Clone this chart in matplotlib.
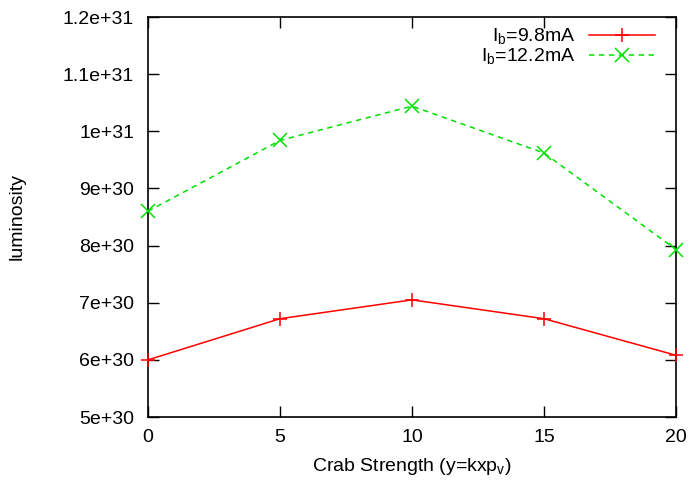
import matplotlib
matplotlib.use("Agg")
import matplotlib.pyplot as plt
from matplotlib.ticker import FixedLocator

plt.rcParams['font.family'] = ['Liberation Sans', 'DejaVu Sans']
plt.rcParams['mathtext.fontset'] = 'custom'
plt.rcParams['mathtext.rm'] = 'Liberation Sans'
plt.rcParams['mathtext.it'] = 'Liberation Sans'
plt.rcParams['mathtext.default'] = 'rm'

crab_strength = [0, 5, 10, 15, 20]
lumi_9_8mA = [6.00e30, 6.72e30, 7.05e30, 6.72e30, 6.08e30]
lumi_12_2mA = [8.60e30, 9.84e30, 1.044e31, 9.62e30, 7.93e30]
x_ticks = [0, 5, 10, 15, 20]
y_ticks = [5e30, 6e30, 7e30, 8e30, 9e30, 1e31, 1.1e31, 1.2e31]
y_tick_labels = ['5e+30', '6e+30', '7e+30', '8e+30', '9e+30', '1e+31', '1.1e+31', '1.2e+31']

FS = 14

fig = plt.figure(figsize=(6.9, 4.8), dpi=100)
ax = fig.add_axes([148 / 690, 63 / 480, 528 / 690, 400 / 480])

ax.plot(crab_strength, lumi_9_8mA, color='#ff0000', lw=1.1, marker='+',
        markersize=10, markeredgewidth=1.1, label=r'I$_{\mathrm{b}}$=9.8mA',
        clip_on=False, zorder=3)
ax.plot(crab_strength, lumi_12_2mA, color='#00e000', lw=1.1, ls=(0, (3.5, 3)),
        marker='x', markersize=10, markeredgewidth=1.1,
        label=r'I$_{\mathrm{b}}$=12.2mA', clip_on=False, zorder=3)

ax.set_xlim(0, 20)
ax.set_ylim(5e30, 1.2e31)
ax.xaxis.set_major_locator(FixedLocator(x_ticks))
ax.set_xticklabels([str(v) for v in x_ticks])
ax.yaxis.set_major_locator(FixedLocator(y_ticks))
ax.set_yticklabels(y_tick_labels)
ax.tick_params(direction='in', length=8, width=1, top=True, right=True,
               labelsize=FS, colors='black')
ax.tick_params(axis='y', pad=10)
ax.tick_params(axis='x', pad=9)
for sp in ax.spines.values():
    sp.set_linewidth(1.2)

ax.set_xlabel(r'Crab Strength (y=kxp$_{\mathrm{v}}$)', fontsize=FS, labelpad=7)
ax.set_ylabel('luminosity', fontsize=FS, labelpad=27)

leg = ax.legend(loc='upper right', bbox_to_anchor=(0.993, 1.02), frameon=False,
                markerfirst=False, handlelength=3.4, handletextpad=0.7,
                labelspacing=0.0, fontsize=FS)
for t in leg.get_texts():
    t.set_ha('right')

fig.savefig('out.png', dpi=100)
